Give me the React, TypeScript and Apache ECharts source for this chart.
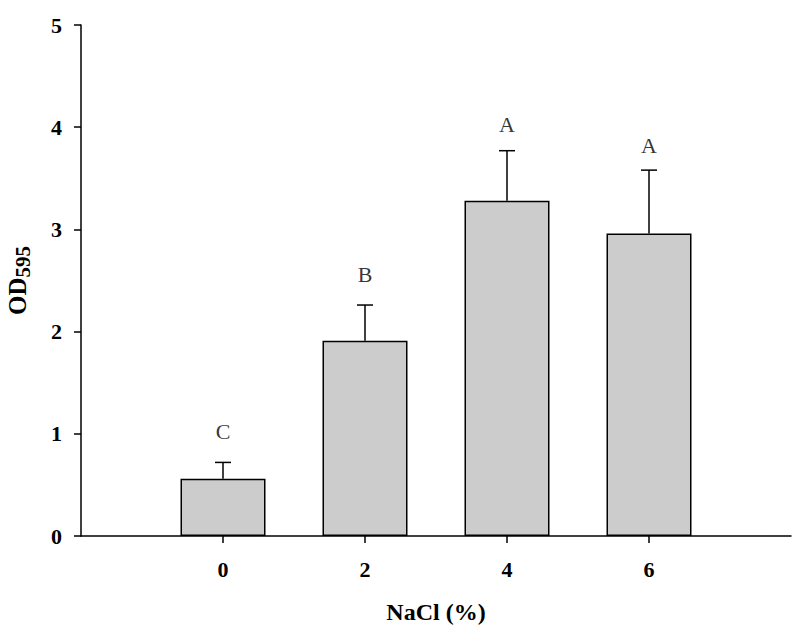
import React, { useEffect, useRef } from "react";
import * as echarts from "echarts";

const categories = ["", "0", "2", "4", "6", ""];
const means = [0.56, 1.91, 3.28, 2.96];
const errorTops = [0.72, 2.26, 3.77, 3.58];
const letters = ["C", "B", "A", "A"];
const letterValues = [1.02, 2.56, 4.03, 3.82];
const yTicks = [0, 1, 2, 3, 4, 5];

const FONT = '"Liberation Serif", "Times New Roman", serif';

export default function App() {
  const ref = useRef<HTMLDivElement>(null);
  useEffect(() => {
    if (!ref.current) return;
    const chart = echarts.init(ref.current, undefined, { renderer: "svg" });
    const barData: any[] = ["-", ...means, "-"];
    const errData = means.map((m, i) => [i + 1, m, errorTops[i]]);
    const letterData = letters.map((l, i) => ({ value: [i + 1, letterValues[i]], name: l }));
    chart.setOption({
      animation: false,
      backgroundColor: "#ffffff",
      grid: {
        left: 81,
        right: 6,
        top: 25,
        bottom: 93,
        containLabel: false,
        outerBoundsMode: "none",
      },
      xAxis: {
        type: "category",
        data: categories,
        boundaryGap: false,
        name: "NaCl (%)",
        nameLocation: "middle",
        nameGap: 64,
        nameTextStyle: { fontFamily: FONT, fontWeight: "bold", fontSize: 24, color: "#000" },
        axisLine: { lineStyle: { color: "#000", width: 1.5 } },
        axisTick: {
          show: true,
          inside: false,
          length: 7,
          interval: (i: number, v: string) => v !== "",
          lineStyle: { color: "#000", width: 1.5 },
        },
        axisLabel: {
          interval: 0,
          margin: 22,
          fontFamily: FONT,
          fontWeight: "bold",
          fontSize: 22,
          color: "#000",
        },
        splitLine: { show: false },
      },
      yAxis: {
        type: "value",
        min: yTicks[0],
        max: yTicks[yTicks.length - 1],
        interval: 1,
        name: "{a|OD}{b|595}",
        nameLocation: "middle",
        nameRotate: 90,
        nameGap: 48,
        nameTextStyle: {
          rich: {
            a: { fontFamily: FONT, fontWeight: "bold", fontSize: 25, color: "#000" },
            b: { fontFamily: FONT, fontWeight: "bold", fontSize: 21, color: "#000", padding: [10, 0, 0, 0] },
          },
        },
        axisLine: { show: true, lineStyle: { color: "#000", width: 1.5 } },
        axisTick: { show: true, inside: false, length: 7, lineStyle: { color: "#000", width: 1.5 } },
        axisLabel: {
          margin: 19,
          fontFamily: FONT,
          fontWeight: "bold",
          fontSize: 22,
          color: "#000",
        },
        splitLine: { show: false },
      },
      series: [
        {
          type: "bar",
          data: barData,
          barWidth: 85,
          itemStyle: { color: "#cccccc", borderColor: "#000", borderWidth: 1.5 },
          z: 2,
        },
        {
          type: "custom",
          data: errData,
          z: 3,
          renderItem: (params: any, api: any) => {
            const x = api.value(0);
            const base = api.coord([x, api.value(1)]);
            const top = api.coord([x, api.value(2)]);
            const half = 8;
            return {
              type: "group",
              children: [
                {
                  type: "line",
                  shape: { x1: base[0], y1: base[1], x2: top[0], y2: top[1] },
                  style: { stroke: "#000", lineWidth: 1.5 },
                },
                {
                  type: "line",
                  shape: { x1: top[0] - half, y1: top[1], x2: top[0] + half, y2: top[1] },
                  style: { stroke: "#000", lineWidth: 1.5 },
                },
              ],
            };
          },
        },
        {
          type: "scatter",
          data: letterData,
          symbolSize: 0,
          z: 4,
          label: {
            show: true,
            position: "inside",
            formatter: (p: any) => p.name,
            fontFamily: FONT,
            fontSize: 22,
            color: "#000",
          },
        },
      ],
    });
    return () => chart.dispose();
  }, []);
  return (
    <div
      ref={ref}
      style={{ position: "absolute", left: 0, top: 0, width: 797, height: 629 }}
    />
  );
}
